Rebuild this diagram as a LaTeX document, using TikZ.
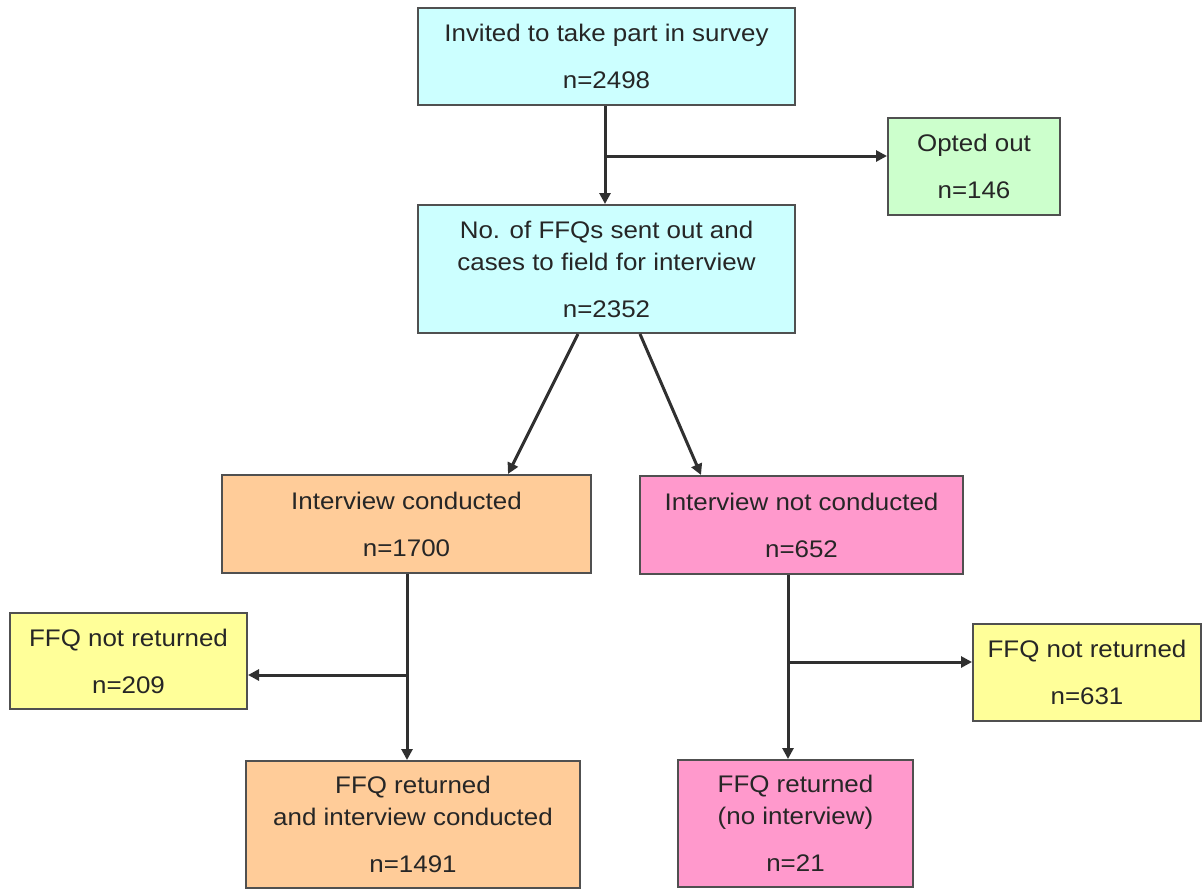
\documentclass[tikz,border=0pt]{standalone}
\usepackage{fontspec}
\setmainfont{Liberation Sans}[FakeStretch=1.08]
\usetikzlibrary{arrows.meta}
\definecolor{cbox}{HTML}{CCFFFF}
\definecolor{gbox}{HTML}{CCFFCC}
\definecolor{obox}{HTML}{FFCC99}
\definecolor{pbox}{HTML}{FF99CC}
\definecolor{ybox}{HTML}{FFFF99}
\definecolor{edge}{HTML}{505050}
\definecolor{lineclr}{HTML}{303030}
\definecolor{txt}{HTML}{262626}
\tikzset{
  box/.style={draw=edge, line width=2pt, rectangle, align=center, inner sep=0pt,
    text=txt, font=\fontsize{24}{32}\selectfont},
  arr/.style={draw=lineclr, line width=3pt, -{Triangle[length=11pt,width=11pt]}},
}
\begin{document}
\begin{tikzpicture}[x=1pt,y=1pt]
\useasboundingbox (0,0) rectangle (1203,-889);
\node[box, fill=cbox, minimum width=377pt, minimum height=97pt] (top) at (606.5,-56.5)
  {Invited to take part in survey\\[15pt]n=2498};
\node[box, fill=gbox, minimum width=172pt, minimum height=97pt] (opt) at (974,-166.5)
  {Opted out\\[15pt]n=146};
\node[box, fill=cbox, minimum width=377pt, minimum height=128pt] (ffq) at (606.5,-269)
  {No. of FFQs sent out and\\cases to field for interview\\[15pt]n=2352};
\node[box, fill=obox, minimum width=369pt, minimum height=98pt] (ic) at (406.5,-524)
  {Interview conducted\\[15pt]n=1700};
\node[box, fill=pbox, minimum width=323pt, minimum height=98pt] (inc) at (801.5,-525)
  {Interview not conducted\\[15pt]n=652};
\node[box, fill=ybox, minimum width=237pt, minimum height=96pt] (nrl) at (128.5,-661)
  {FFQ not returned\\[15pt]n=209};
\node[box, fill=ybox, minimum width=228pt, minimum height=97pt] (nrr) at (1087,-672.5)
  {FFQ not returned\\[15pt]n=631};
\node[box, fill=obox, minimum width=334pt, minimum height=127pt] (retl) at (413,-824.5)
  {FFQ returned\\and interview conducted\\[15pt]n=1491};
\node[box, fill=pbox, minimum width=235pt, minimum height=127pt] (retr) at (795.5,-823.5)
  {FFQ returned\\(no interview)\\[15pt]n=21};

% top -> ffq with branch to opted out
\coordinate (b1) at (605,-156);
\draw[arr] (top.south -| b1) -- (ffq.north -| b1);
\draw[arr] (b1) -- (b1 -| opt.west);

% ffq -> ic / inc
\draw[arr] ([xshift=-28.5pt]ffq.south) -- ([xshift=101.5pt]ic.north);
\draw[arr] ([xshift=33.5pt]ffq.south) -- ([xshift=-100.5pt]inc.north);

% ic -> retl with branch left
\coordinate (b2) at (407,-675);
\draw[arr] (ic.south -| b2) -- (retl.north -| b2);
\draw[arr] (b2) -- (b2 -| nrl.east);

% inc -> retr with branch right
\coordinate (b3) at (788,-662);
\draw[arr] (inc.south -| b3) -- (retr.north -| b3);
\draw[arr] (b3) -- (b3 -| nrr.west);
\end{tikzpicture}
\end{document}
